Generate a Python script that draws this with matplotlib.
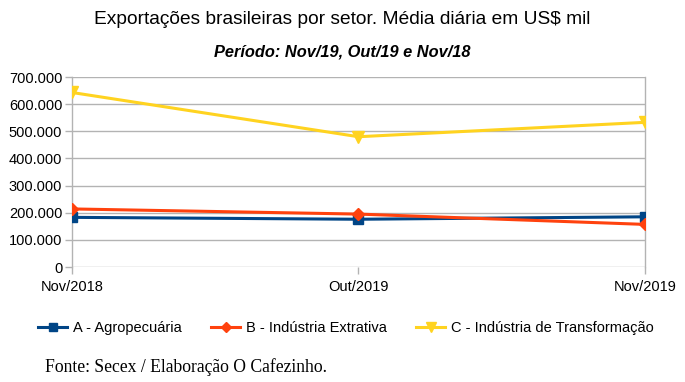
import matplotlib
matplotlib.use("Agg")
import matplotlib.pyplot as plt
from matplotlib.ticker import FuncFormatter

categories = ["Nov/2018", "Out/2019", "Nov/2019"]
agro = [183000, 176000, 185000]
extrativa = [214000, 195000, 157000]
transformacao = [643000, 480000, 533000]
series_names = ["A - Agropecuária", "B - Indústria Extrativa", "C - Indústria de Transformação"]

plt.rcParams['font.family'] = ['Liberation Sans', 'DejaVu Sans']

fig = plt.figure(figsize=(6.85, 3.82), dpi=100)
ax = fig.add_axes([0.105, 0.301, 0.8366, 0.4974])

x = list(range(len(categories)))
ax.plot(x, agro, color="#004586", lw=2.2, marker="s", ms=7, label=series_names[0], zorder=3)
ax.plot(x, extrativa, color="#ff420e", lw=2.2, marker="D", ms=6, label=series_names[1], zorder=4)
ax.plot(x, transformacao, color="#ffd320", lw=2.2, marker="v", ms=8.5, label=series_names[2], zorder=3)

ax.set_xlim(0, 2)
ax.set_ylim(0, 700000)
ax.set_yticks(range(0, 700001, 100000))
ax.yaxis.set_major_formatter(FuncFormatter(lambda v, p: f"{int(v):,}".replace(",", ".")))
ax.set_xticks(x)
ax.set_xticklabels(categories)
ax.grid(axis="y", color="#b3b3b3", lw=1)
ax.set_axisbelow(True)
for s in ["top", "bottom"]:
    ax.spines[s].set_visible(False)
for s in ["left", "right"]:
    ax.spines[s].set_color("#b3b3b3")
    ax.spines[s].set_linewidth(1)
ax.tick_params(axis="both", colors="#b3b3b3", labelcolor="black", labelsize=10.5, length=5, width=1)
ax.tick_params(axis="x", pad=4)
ax.tick_params(axis="y", pad=2)
for lab in ax.get_xticklabels():
    lab.set_clip_on(False)

fig.text(0.5, 1 - 20/382, "Exportações brasileiras por setor. Média diária em US$ mil",
         ha="center", va="center", fontsize=13.8)
fig.text(0.5, 1 - 52/382, "Período: Nov/19, Out/19 e Nov/18",
         ha="center", va="center", fontsize=11.8, fontweight="bold", fontstyle="italic")

fig.legend(loc="center", bbox_to_anchor=(0.505, 1 - 328/382), ncol=3, frameon=False,
           fontsize=10.5, handlelength=2.0, columnspacing=2.0, handletextpad=0.4,
           markerscale=0.85)

fig.text(45/685, 1 - 367/382, "Fonte: Secex / Elaboração O Cafezinho.",
         ha="left", va="center", fontsize=12.7, family=["Liberation Serif", "DejaVu Serif"])

fig.savefig("out.png", dpi=100)
